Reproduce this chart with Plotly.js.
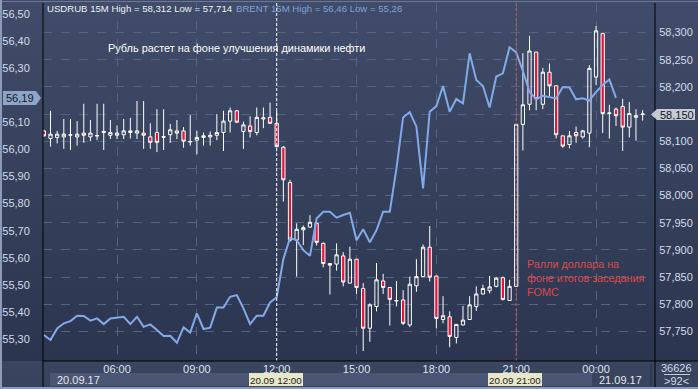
<!DOCTYPE html>
<html><head><meta charset="utf-8">
<script src="https://cdn.plot.ly/plotly-3.0.1.min.js"></script>
<style>
html,body{margin:0;padding:0;width:698px;height:389px;overflow:hidden;}
body{background:linear-gradient(to bottom,#404c69 0px,#2b354f 361px,#3a4560 361px,#37425c 389px);}
#chart{width:698px;height:389px;}
</style></head><body><div id="chart"></div>
<script>
const times = [
'2017-09-20 03:15','2017-09-20 03:30','2017-09-20 03:45','2017-09-20 04:00','2017-09-20 04:15','2017-09-20 04:30','2017-09-20 04:45','2017-09-20 05:00','2017-09-20 05:15','2017-09-20 05:30',
'2017-09-20 05:45','2017-09-20 06:00','2017-09-20 06:15','2017-09-20 06:30','2017-09-20 06:45','2017-09-20 07:00','2017-09-20 07:15','2017-09-20 07:30','2017-09-20 07:45','2017-09-20 08:00',
'2017-09-20 08:15','2017-09-20 08:30','2017-09-20 08:45','2017-09-20 09:00','2017-09-20 09:15','2017-09-20 09:30','2017-09-20 09:45','2017-09-20 10:00','2017-09-20 10:15','2017-09-20 10:30',
'2017-09-20 10:45','2017-09-20 11:00','2017-09-20 11:15','2017-09-20 11:30','2017-09-20 11:45',
'2017-09-20 12:00','2017-09-20 12:15','2017-09-20 12:30','2017-09-20 12:45','2017-09-20 13:00','2017-09-20 13:15','2017-09-20 13:30','2017-09-20 13:45','2017-09-20 14:00','2017-09-20 14:15',
'2017-09-20 14:30','2017-09-20 14:45','2017-09-20 15:00','2017-09-20 15:15','2017-09-20 15:30','2017-09-20 15:45','2017-09-20 16:00','2017-09-20 16:15','2017-09-20 16:30','2017-09-20 16:45',
'2017-09-20 17:00','2017-09-20 17:15','2017-09-20 17:30','2017-09-20 17:45','2017-09-20 18:00','2017-09-20 18:15','2017-09-20 18:30','2017-09-20 18:45','2017-09-20 19:00','2017-09-20 19:15',
'2017-09-20 19:30','2017-09-20 19:45','2017-09-20 20:00','2017-09-20 20:15','2017-09-20 20:30','2017-09-20 20:45','2017-09-20 21:00','2017-09-20 21:15','2017-09-20 21:30','2017-09-20 21:45',
'2017-09-20 22:00','2017-09-20 22:15','2017-09-20 22:30','2017-09-20 22:45','2017-09-20 23:00','2017-09-20 23:15','2017-09-20 23:30','2017-09-20 23:45','2017-09-21 00:00','2017-09-21 00:15',
'2017-09-21 00:30','2017-09-21 00:45','2017-09-21 01:00','2017-09-21 01:15','2017-09-21 01:30','2017-09-21 01:45'
];
const usdOpen = [
58.119,58.105,58.107,58.108,58.111,58.108,58.115,58.108,58.1095,58.116,
58.111,58.111,58.112,58.116,58.115,58.115,58.108,58.116,58.1085,58.112,
58.119,58.119,58.0995,58.102,58.107,58.108,58.111,58.116,58.137,58.156,
58.118,58.128,58.116,58.141,58.144,
58.133,58.089,58.024,57.918,57.937,57.942,57.949,57.912,57.875,57.874,
57.889,57.839,57.883,57.829,57.756,57.796,57.843,57.831,57.806,57.808,
57.762,57.834,57.851,57.905,57.852,57.772,57.777,57.739,57.762,57.772,
57.796,57.819,57.825,57.833,57.849,57.807,57.833,58.131,58.168,58.264,
58.168,58.227,58.202,58.110,58.094,58.116,58.108,58.115,58.218,58.298,
58.151,58.159,58.164,58.126,58.144,58.149
];
const usdHigh = [
58.121,58.156,58.119,58.141,58.141,58.137,58.169,58.139,58.169,58.169,
58.139,58.129,58.141,58.143,58.174,58.174,58.133,58.159,58.159,58.132,
58.139,58.126,58.148,58.119,58.116,58.118,58.150,58.156,58.162,58.157,
58.136,58.146,58.162,58.162,58.171,
58.156,58.091,58.029,57.949,57.945,57.964,57.950,57.914,57.876,57.912,
57.896,57.906,57.883,57.839,57.802,57.876,57.856,57.831,57.843,57.826,
57.851,57.883,57.910,57.944,57.852,57.815,57.787,57.763,57.797,57.815,
57.833,57.836,57.852,57.850,57.851,57.845,58.132,58.262,58.294,58.264,
58.235,58.243,58.202,58.110,58.119,58.127,58.121,58.240,58.312,58.298,
58.167,58.162,58.178,58.172,58.159,58.157
];
const usdLow = [
58.108,58.090,58.096,58.086,58.084,58.092,58.097,58.100,58.102,58.084,
58.104,58.104,58.104,58.105,58.104,58.086,58.086,58.080,58.084,58.097,
58.104,58.088,58.092,58.076,58.092,58.092,58.102,58.082,58.116,58.134,
58.086,58.107,58.111,58.124,58.132,
58.089,57.989,57.915,57.851,57.909,57.941,57.908,57.868,57.818,57.862,
57.833,57.839,57.819,57.714,57.731,57.787,57.819,57.761,57.796,57.762,
57.758,57.823,57.851,57.842,57.756,57.765,57.721,57.728,57.761,57.771,
57.788,57.818,57.820,57.831,57.807,57.807,57.833,58.083,58.157,58.157,
58.159,58.183,58.105,58.088,58.087,58.097,58.105,58.089,58.203,58.115,
58.105,58.128,58.082,58.107,58.101,58.138
];
const usdClose = [
58.110,58.113,58.113,58.113,58.112,58.113,58.111,58.115,58.1105,58.118,
58.116,58.115,58.119,58.119,58.119,58.111,58.098,58.098,58.1075,58.121,
58.115,58.100,58.0990,58.107,58.110,58.111,58.116,58.137,58.156,58.135,
58.130,58.118,58.144,58.143,58.133,
58.090,58.029,57.918,57.938,57.941,57.951,57.914,57.875,57.872,57.891,
57.841,57.883,57.831,57.756,57.799,57.845,57.831,57.809,57.807,57.765,
57.837,57.851,57.905,57.850,57.774,57.779,57.741,57.763,57.771,57.799,
57.819,57.829,57.832,57.848,57.809,57.833,58.131,58.167,58.266,58.178,
58.227,58.202,58.112,58.091,58.110,58.110,58.119,58.234,58.303,58.151,
58.152,58.147,58.126,58.151,58.147,58.150
];
const brent = [
55.315,55.296,55.339,55.358,55.366,55.386,55.385,55.368,55.376,55.355,
55.376,55.379,55.382,55.355,55.382,55.345,55.354,55.333,55.311,55.312,
55.286,55.343,55.324,55.395,55.337,55.342,55.416,55.416,55.456,55.462,
55.413,55.355,55.386,55.386,55.435,
55.454,55.595,55.673,55.665,55.628,55.607,55.745,55.770,55.770,55.748,
55.758,55.766,55.665,55.705,55.657,55.702,55.770,55.770,55.930,56.118,
56.138,56.084,55.856,56.139,56.160,56.234,56.139,56.186,56.170,56.355,
56.256,56.234,56.155,56.269,56.281,56.377,56.358,56.290,56.212,56.185,
56.198,56.193,56.188,56.230,56.229,56.185,56.189,56.180,56.212,56.238,
56.258,56.190
];
const leftTicks = [55.3,55.4,55.5,55.6,55.7,55.8,55.9,56.0,56.1,56.3,56.4,56.5];
const rightTicks = [57.75,57.8,57.85,57.9,57.95,58.0,58.05,58.1,58.15,58.2,58.25,58.3];
const headerUsd = 'USDRUB 15M High = 58,312 Low = 57,714';
const headerBrent = 'BRENT 15M High = 56,46 Low = 55,26';
const noteMain = 'Рубль растет на фоне улучшения динамики нефти';
const noteFomc = 'Ралли доллара на<br>фоне итогов заседания<br>FOMC';
const markerTimes = ['2017-09-20 12:00','2017-09-20 21:00'];
const markerLabels = ['20.09 12:00','20.09 21:00'];
const dayLabels = ['20.09.17','21.09.17'];
const lastBrent = '56,19', lastUsd = '58,150';
const countTop = '36626', countBottom = '>92<';

const W=698,H=389,L=43,R=655,T=3,B=361;
const px = x => (x-L)/(R-L);
const py = y => (B-y)/(B-T);
const FONT = 'Liberation Sans, Arial, sans-serif';
const LBL = '#d4dcea';

const traces = [
 {type:'candlestick', x:times, open:usdOpen, high:usdHigh, low:usdLow, close:usdClose,
  xaxis:'x', yaxis:'y', whiskerwidth:0, hoverinfo:'skip',
  increasing:{line:{color:'#ffffff',width:1}, fillcolor:'rgba(0,0,0,0)'},
  decreasing:{line:{color:'#ffffff',width:1}, fillcolor:'#e3163c'}},
 {type:'scatter', mode:'lines', x:times.slice(0,brent.length), y:brent, xaxis:'x', yaxis:'y2',
  line:{color:'#82aae8', width:2}, hoverinfo:'skip'}
];

function rect(x0,y0,x1,y1,fill,line){return {type:'rect',xref:'paper',yref:'paper',x0:px(x0),x1:px(x1),y0:py(y1),y1:py(y0),fillcolor:fill,line:{width:line?1:0,color:line||fill},layer:'above'};}
function seg(x0,y0,x1,y1,color,w,dash){return {type:'line',xref:'paper',yref:'paper',x0:px(x0),x1:px(x1),y0:py(y0),y1:py(y1),line:{color:color,width:w||1,dash:dash||'solid'},layer:'above'};}
function path(pts,fill){return {type:'path',xref:'paper',yref:'paper',path:'M'+pts.map(p=>px(p[0])+','+py(p[1])).join(' L')+' Z',fillcolor:fill,line:{width:0},layer:'above'};}
function txt(s,x,y,opt){return Object.assign({text:s,xref:'paper',yref:'paper',x:px(x),y:py(y),showarrow:false,xanchor:'left',yanchor:'middle',font:{family:FONT,size:11,color:LBL}},opt||{});}

const shapes = [
 {type:'line',xref:'x',yref:'paper',x0:markerTimes[0],x1:markerTimes[0],y0:0,y1:1,line:{color:'#ffffff',width:1,dash:'3px,2px'}},
 {type:'line',xref:'x',yref:'paper',x0:markerTimes[1],x1:markerTimes[1],y0:0,y1:1,line:{color:'#c85a5a',width:1,dash:'3px,2px'}},
 rect(50,373,592,386,'#4a5674'),
 rect(249,373,303,386,'#e8e7ca'),
 rect(488,373,542,386,'#e8e7ca'),
 seg(651,364,651,386,'#273046',1),
 seg(664,374.5,690,374.5,'#c3cbdb',1),
 seg(43,3,43,389,'#000000',1),
 seg(655,3,655,387,'#000000',1),
 seg(43,361,698,361,'#000000',1),
 seg(0,1.5,698,1.5,'#6c7995',1),
 seg(1,0,1,389,'#8e9bb7',2),
 seg(0,388,698,388,'#8e9bb7',2),
 path([[3,91],[36,91],[41,98],[36,105],[3,105]],'#8ea5c6'),
 path([[651,114.5],[657,109],[695,109],[695,120],[657,120]],'#c6cad3')
];

const annotations = [
 txt(headerUsd,45,8,{font:{family:FONT,size:9.6,color:'#eef1f6'}}),
 txt(headerBrent,234,8,{font:{family:FONT,size:9.6,color:'#7fa3da'}}),
 txt(noteMain,106,48,{font:{family:FONT,size:10.9,color:'#ffffff'}}),
 txt(noteFomc,525,278,{align:'left',font:{family:FONT,size:10.8,color:'#d94b4b'}}),
 txt(lastBrent,4,98,{font:{family:FONT,size:11,color:'#101828'}}),
 txt(lastUsd,658,114.5,{font:{family:FONT,size:11,color:'#101828'}}),
 txt(dayLabels[0],55,380,{font:{family:FONT,size:11,color:'#e2e7f0'}}),
 txt(dayLabels[1],597,380,{font:{family:FONT,size:11,color:'#e2e7f0'}}),
 txt(markerLabels[0],276,380,{xanchor:'center',font:{family:FONT,size:9.8,color:'#1a1a1a'}}),
 txt(markerLabels[1],515,380,{xanchor:'center',font:{family:FONT,size:9.8,color:'#1a1a1a'}}),
 txt(countTop,676,368,{xanchor:'center',font:{family:FONT,size:11,color:LBL}}),
 txt(countBottom,676,381,{xanchor:'center',font:{family:FONT,size:11,color:LBL}})
];

const layout = {
 width:W,height:H,margin:{l:L,r:W-R,t:T,b:H-B,pad:0},
 paper_bgcolor:'rgba(0,0,0,0)',plot_bgcolor:'rgba(0,0,0,0)',
 separators:', ',showlegend:false,dragmode:false,
 font:{family:FONT,size:11,color:LBL},
 xaxis:{type:'date',range:['2017-09-20 03:13:05','2017-09-21 02:12:55'],rangeslider:{visible:false},
  showgrid:true,gridcolor:'#56627f',griddash:'dash',gridwidth:1,tickformat:'%H:%M',
  dtick:10800000,tick0:'2017-09-20 00:00',ticks:'',showline:false,zeroline:false,
  tickfont:{family:FONT,size:11,color:'#dfe5ef'}},
 yaxis:{side:'right',range:[57.6957,58.3543],tickvals:rightTicks,tickformat:'.3f',
  showgrid:true,gridcolor:'#56627f',griddash:'dash',gridwidth:1,ticks:'outside',ticklen:1,
  tickcolor:'rgba(0,0,0,0)',showline:false,zeroline:false,tickfont:{family:FONT,size:11,color:LBL}},
 yaxis2:{side:'left',overlaying:'y',range:[55.2188,56.5406],tickvals:leftTicks,tickformat:'.2f',
  showgrid:false,ticks:'outside',ticklen:10,tickcolor:'rgba(0,0,0,0)',showline:false,zeroline:false,
  tickfont:{family:FONT,size:11,color:LBL}},
 shapes:shapes,annotations:annotations
};
Plotly.newPlot('chart',traces,layout,{staticPlot:true,displayModeBar:false});
</script></body></html>
